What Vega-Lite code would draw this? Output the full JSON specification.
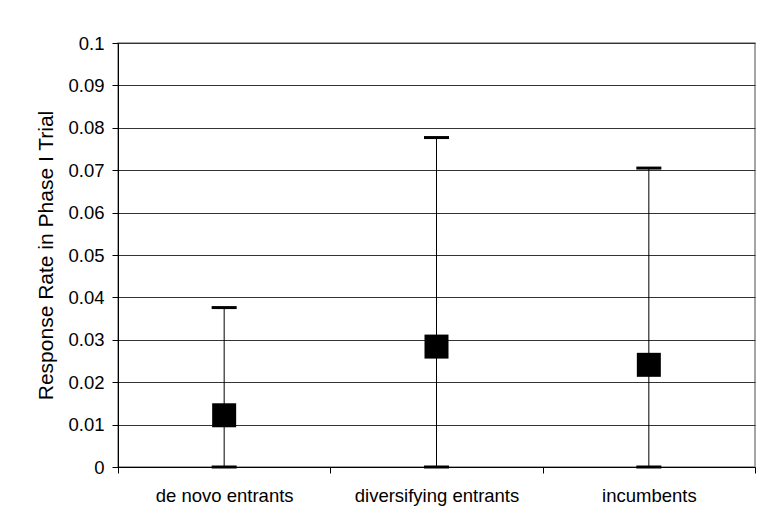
{
  "$schema": "https://vega.github.io/schema/vega-lite/v6.json",
  "width": 637,
  "height": 424,
  "autosize": {"type": "none"},
  "padding": {"left": 118, "top": 43, "right": 3, "bottom": 56},
  "background": "white",
  "config": {
    "font": "Liberation Sans",
    "view": {"stroke": "#888888", "strokeWidth": 1.5},
    "axis": {
      "domainColor": "black",
      "domainWidth": 1,
      "tickColor": "black",
      "tickSize": 6,
      "labelColor": "black",
      "labelFont": "Liberation Sans",
      "labelFontSize": 18.5,
      "titleColor": "black",
      "titleFont": "Liberation Sans",
      "titleFontWeight": "normal"
    }
  },
  "data": {
    "values": [
      {"group": "de novo entrants", "value": 0.0122, "lower": 0, "upper": 0.0376},
      {"group": "diversifying entrants", "value": 0.0284, "lower": 0, "upper": 0.0777},
      {"group": "incumbents", "value": 0.0241, "lower": 0, "upper": 0.0705}
    ]
  },
  "encoding": {
    "x": {
      "field": "group",
      "type": "nominal",
      "sort": null,
      "scale": {"type": "band", "paddingInner": 0, "paddingOuter": 0},
      "axis": {
        "title": null,
        "labelAngle": 0,
        "tickBand": "extent",
        "labelPadding": 13,
        "grid": false
      }
    }
  },
  "layer": [
    {
      "mark": {"type": "rule", "color": "black", "strokeWidth": 1},
      "encoding": {
        "y": {
          "field": "lower",
          "type": "quantitative",
          "scale": {"domain": [0, 0.1], "nice": false, "zero": true},
          "axis": {
            "title": "Response Rate in Phase I Trial",
            "titleFontSize": 21,
            "titlePadding": 11,
            "values": [0, 0.01, 0.02, 0.03, 0.04, 0.05, 0.06, 0.07, 0.08, 0.09, 0.1],
            "format": ".2~f",
            "labelPadding": 8,
            "grid": true,
            "gridColor": "#333333",
            "gridWidth": 1
          }
        },
        "y2": {"field": "upper"}
      }
    },
    {
      "mark": {"type": "tick", "color": "black", "thickness": 3, "size": 25, "opacity": 1},
      "encoding": {"y": {"field": "upper", "type": "quantitative"}}
    },
    {
      "mark": {"type": "tick", "color": "black", "thickness": 3, "size": 25, "opacity": 1},
      "encoding": {"y": {"field": "lower", "type": "quantitative"}}
    },
    {
      "mark": {"type": "square", "filled": true, "color": "black", "size": 576, "opacity": 1},
      "encoding": {"y": {"field": "value", "type": "quantitative"}}
    }
  ]
}
